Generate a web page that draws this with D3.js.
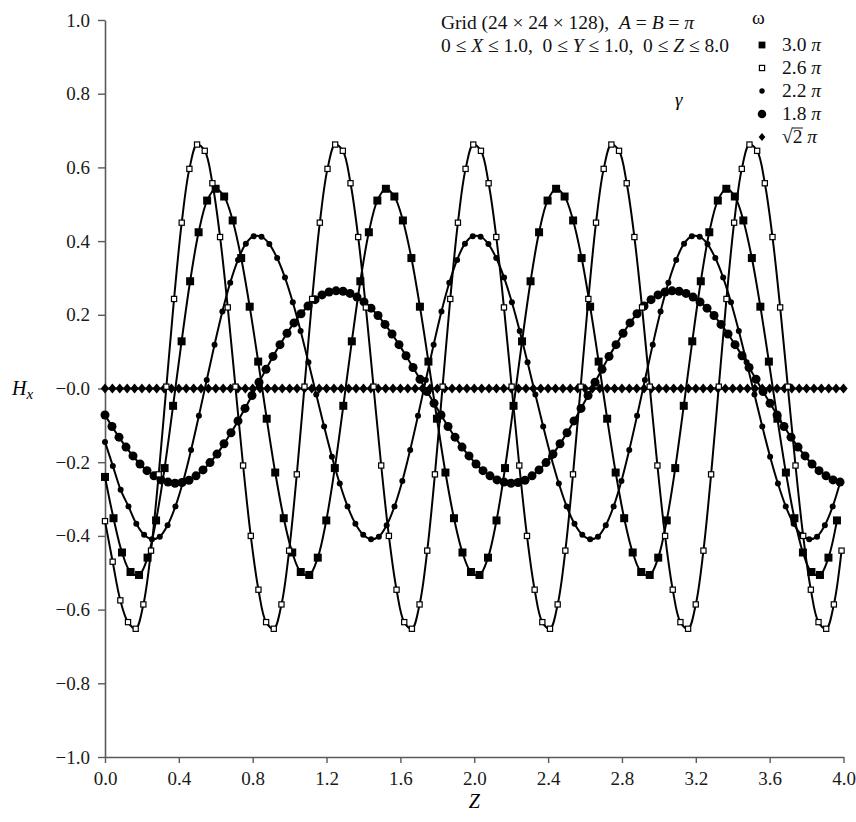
<!DOCTYPE html>
<html>
<head>
<meta charset="utf-8">
<script src="https://cdn.jsdelivr.net/npm/d3@7"></script>
<style>
  html, body { margin: 0; padding: 0; background: #fff; }
  svg { display: block; font-family: "Liberation Serif", "Times New Roman", serif; }
  text { white-space: pre; }
</style>
</head>
<body>
<svg id="chart" width="856" height="822"></svg>
<script>
// ---- Hx along the guide for each angular frequency (sampled in Z) ----
const legendLabels = ["3.0", "2.6", "2.2", "1.8", "√2"];
const zSteps = [0.0461, 0.041556, 0.042382, 0.037917, 0.04];

// omega = 3.0 pi  (filled squares)
const hx30 = [
  -0.240, -0.352, -0.445, -0.498, -0.506, -0.459, -0.358, -0.216, -0.047, 0.128,
   0.291,  0.424,  0.510,  0.542,  0.521,  0.456,  0.354,  0.222,  0.073, -0.082,
  -0.228, -0.352, -0.445, -0.498, -0.506, -0.459, -0.358, -0.216, -0.047, 0.128,
   0.291,  0.424,  0.510,  0.542,  0.521,  0.456,  0.354,  0.222,  0.073, -0.082,
  -0.228, -0.352, -0.445, -0.498, -0.506, -0.459, -0.358, -0.216, -0.047, 0.128,
   0.291,  0.424,  0.510,  0.542,  0.521,  0.456,  0.354,  0.222,  0.073, -0.082,
  -0.228, -0.352, -0.445, -0.498, -0.506, -0.459, -0.358, -0.216, -0.047, 0.128,
   0.291,  0.424,  0.510,  0.542,  0.521,  0.456,  0.354,  0.222,  0.073, -0.082,
  -0.228, -0.352, -0.445, -0.498, -0.506, -0.459, -0.358
];

// omega = 2.6 pi  (open squares)
const hx26 = [
  -0.360, -0.470, -0.575, -0.634, -0.652, -0.586, -0.440, -0.233, 0.005,
   0.243,  0.450,  0.596,  0.662,  0.645,  0.557,  0.411,  0.220, 0.005,
  -0.209, -0.400, -0.546, -0.634, -0.652, -0.586, -0.440, -0.233, 0.005,
   0.243,  0.450,  0.596,  0.662,  0.645,  0.557,  0.411,  0.220, 0.005,
  -0.209, -0.400, -0.546, -0.634, -0.652, -0.586, -0.440, -0.233, 0.005,
   0.243,  0.450,  0.596,  0.662,  0.645,  0.557,  0.411,  0.220, 0.005,
  -0.209, -0.400, -0.546, -0.634, -0.652, -0.586, -0.440, -0.233, 0.005,
   0.243,  0.450,  0.596,  0.662,  0.645,  0.557,  0.411,  0.220, 0.005,
  -0.209, -0.400, -0.546, -0.634, -0.652, -0.586, -0.440, -0.233, 0.005,
   0.243,  0.450,  0.596,  0.662,  0.645,  0.557,  0.411,  0.220, 0.005,
  -0.209, -0.400, -0.546, -0.634, -0.652, -0.586, -0.440
];

// omega = 2.2 pi  (small circles)
const hx22 = [
  -0.145, -0.210, -0.275, -0.320, -0.367, -0.397, -0.409, -0.402, -0.371, -0.320,
  -0.251, -0.167, -0.074,  0.023,  0.119,  0.209,  0.287,  0.349,  0.393,  0.413,
   0.412,  0.392,  0.354,  0.301,  0.234,  0.156,  0.071, -0.016,
  -0.103, -0.185, -0.258, -0.320, -0.367, -0.397, -0.409, -0.402, -0.371, -0.320,
  -0.251, -0.167, -0.074,  0.023,  0.119,  0.209,  0.287,  0.349,  0.393,  0.413,
   0.412,  0.392,  0.354,  0.301,  0.234,  0.156,  0.071, -0.016,
  -0.103, -0.185, -0.258, -0.320, -0.367, -0.397, -0.409, -0.402, -0.371, -0.320,
  -0.251, -0.167, -0.074,  0.023,  0.119,  0.209,  0.287,  0.349,  0.393,  0.413,
   0.412,  0.392,  0.354,  0.301,  0.234,  0.156,  0.071, -0.016,
  -0.103, -0.185, -0.258, -0.320, -0.367, -0.397, -0.409, -0.402, -0.371, -0.320,
  -0.251
];

// omega = 1.8 pi  (large circles)
const hx18 = [
  -0.072, -0.103, -0.132, -0.159, -0.183, -0.205, -0.223, -0.237, -0.248, -0.254,
  -0.257, -0.255, -0.249, -0.237, -0.221, -0.201, -0.178, -0.150, -0.120, -0.088,
  -0.054, -0.019,  0.017,  0.052,  0.087,  0.119,  0.150,  0.178,  0.203,  0.224,
   0.241,  0.254,  0.262,  0.265,  0.264,  0.258,  0.248,  0.235,  0.218,  0.198,
   0.174,  0.148,  0.119,  0.089,  0.057,  0.025, -0.008, -0.040,
  -0.072, -0.103, -0.132, -0.159, -0.183, -0.205, -0.223, -0.237, -0.248, -0.254,
  -0.257, -0.255, -0.249, -0.237, -0.221, -0.201, -0.178, -0.150, -0.120, -0.088,
  -0.054, -0.019,  0.017,  0.052,  0.087,  0.119,  0.150,  0.178,  0.203,  0.224,
   0.241,  0.254,  0.262,  0.265,  0.264,  0.258,  0.248,  0.235,  0.218,  0.198,
   0.174,  0.148,  0.119,  0.089,  0.057,  0.025, -0.008, -0.040,
  -0.072, -0.103, -0.132, -0.159, -0.183, -0.205, -0.223, -0.237, -0.248, -0.254
];

// omega = sqrt(2) pi  (diamonds, cut-off: no field)
const hxSqrt2 = [
  0, 0, 0, 0, 0, 0, 0, 0, 0, 0, 0, 0, 0, 0, 0, 0, 0, 0, 0, 0,
  0, 0, 0, 0, 0, 0, 0, 0, 0, 0, 0, 0, 0, 0, 0, 0, 0, 0, 0, 0,
  0, 0, 0, 0, 0, 0, 0, 0, 0, 0, 0, 0, 0, 0, 0, 0, 0, 0, 0, 0,
  0, 0, 0, 0, 0, 0, 0, 0, 0, 0, 0, 0, 0, 0, 0, 0, 0, 0, 0, 0,
  0, 0, 0, 0, 0, 0, 0, 0, 0, 0, 0, 0, 0, 0, 0, 0, 0, 0, 0, 0,
  0
];

const xTicks = [0, 0.4, 0.8, 1.2, 1.6, 2.0, 2.4, 2.8, 3.2, 3.6, 4.0];
const xTickLabels = ["0.0", "0.4", "0.8", "1.2", "1.6", "2.0", "2.4", "2.8", "3.2", "3.6", "4.0"];
const yTicks = [1.0, 0.8, 0.6, 0.4, 0.2, 0.0, -0.2, -0.4, -0.6, -0.8, -1.0];
const yTickLabels = ["1.0", "0.8", "0.6", "0.4", "0.2", "\u22120.0", "\u22120.2", "\u22120.4", "\u22120.6", "\u22120.8", "\u22121.0"];

// ---- drawing ----
const serif = '"Liberation Serif", "Times New Roman", serif';
const svg = d3.select("#chart");
const x = d3.scaleLinear().domain([0, 4]).range([105, 843.5]);
const y = d3.scaleLinear().domain([-1, 1]).range([757, 20]);

const axisColor = "#5a5a5a";
const tickFont = 19;

const gx = svg.append("g")
  .attr("transform", `translate(0,${y(-1)})`)
  .call(d3.axisBottom(x).tickValues(xTicks)
    .tickFormat((d, i) => xTickLabels[i]).tickSize(6).tickSizeOuter(0).tickPadding(9));
const gy = svg.append("g")
  .attr("transform", `translate(${x(0)},0)`)
  .call(d3.axisLeft(y).tickValues(yTicks)
    .tickFormat((d, i) => yTickLabels[i]).tickSize(7).tickSizeOuter(0).tickPadding(8));

[gx, gy].forEach(g => {
  g.attr("font-family", null).attr("font-size", null);
  g.select(".domain").attr("stroke", axisColor).attr("stroke-width", 1.6);
  g.selectAll(".tick line").attr("stroke", axisColor).attr("stroke-width", 1.4);
  g.selectAll(".tick text")
    .attr("fill", "#1a1a1a")
    .style("font-family", serif)
    .style("font-size", tickFont + "px");
});

// axis titles
svg.append("text")
  .attr("x", x(2)).attr("y", 808)
  .attr("text-anchor", "middle")
  .style("font-size", "20px").attr("font-style", "italic")
  .text("Z");
const hLab = svg.append("text")
  .attr("x", 12).attr("y", y(0) + 6)
  .style("font-size", "20px").attr("font-style", "italic");
hLab.append("tspan").text("H");
hLab.append("tspan").style("font-size", "15px").attr("dy", 4).text("x");

// series
const series = [
  { values: hx30, step: zSteps[0], marker: "fsquare" },
  { values: hx26, step: zSteps[1], marker: "osquare" },
  { values: hx22, step: zSteps[2], marker: "scircle" },
  { values: hx18, step: zSteps[3], marker: "bcircle" },
  { values: hxSqrt2, step: zSteps[4], marker: "diamond" }
];

const line = d3.line()
  .x(d => x(d[0]))
  .y(d => y(d[1]))
  .curve(d3.curveCatmullRom.alpha(0.5));

function drawMarker(g, type, cx, cy) {
  if (type === "fsquare") {
    g.append("rect").attr("x", cx - 4).attr("y", cy - 4)
      .attr("width", 8).attr("height", 8).attr("fill", "#000");
  } else if (type === "osquare") {
    g.append("rect").attr("x", cx - 2.6).attr("y", cy - 2.6)
      .attr("width", 5.2).attr("height", 5.2)
      .attr("fill", "#fff").attr("stroke", "#000").attr("stroke-width", 1.2);
  } else if (type === "scircle") {
    g.append("circle").attr("cx", cx).attr("cy", cy).attr("r", 3).attr("fill", "#000");
  } else if (type === "bcircle") {
    g.append("circle").attr("cx", cx).attr("cy", cy).attr("r", 4.5).attr("fill", "#000");
  } else if (type === "diamond") {
    g.append("path")
      .attr("d", `M${cx},${cy - 5}L${cx + 4.2},${cy}L${cx},${cy + 5}L${cx - 4.2},${cy}Z`)
      .attr("fill", "#000");
  }
}

// draw order: flat line first, then the rest
const order = [4, 3, 2, 0, 1];
order.forEach(k => {
  const s = series[k];
  const pts = s.values.map((v, i) => [i * s.step, v]);
  const g = svg.append("g");
  g.append("path")
    .attr("d", line(pts))
    .attr("fill", "none")
    .attr("stroke", "#000")
    .attr("stroke-width", 2);
  pts.forEach(p => drawMarker(g, s.marker, x(p[0]), y(p[1])));
});

// annotation block
const note = svg.append("g").style("font-size", "19.5px").attr("fill", "#111");
const l1 = note.append("text").attr("x", 441).attr("y", 29);
l1.append("tspan").text("Grid (24 \u00d7 24 \u00d7 128),  ");
l1.append("tspan").attr("font-style", "italic").text("A");
l1.append("tspan").text(" = ");
l1.append("tspan").attr("font-style", "italic").text("B");
l1.append("tspan").text(" = ");
l1.append("tspan").attr("font-style", "italic").text("\u03c0");
const l2 = note.append("text").attr("x", 441).attr("y", 52);
l2.append("tspan").text("0 \u2264 ");
l2.append("tspan").attr("font-style", "italic").text("X");
l2.append("tspan").text(" \u2264 1.0,  0 \u2264 ");
l2.append("tspan").attr("font-style", "italic").text("Y");
l2.append("tspan").text(" \u2264 1.0,  0 \u2264 ");
l2.append("tspan").attr("font-style", "italic").text("Z");
l2.append("tspan").text(" \u2264 8.0");

svg.append("text").attr("x", 675).attr("y", 106)
  .style("font-size", "19px").attr("font-style", "italic").text("\u03b3");

// legend
const leg = svg.append("g").style("font-size", "19.5px").attr("fill", "#111");
leg.append("text").attr("x", 752).attr("y", 24).text("\u03c9");
const legMarkers = ["fsquare", "osquare", "scircle", "bcircle", "diamond"];
const legendMarkerScale = { fsquare: 0.85, osquare: 1, scircle: 0.9, bcircle: 0.95, diamond: 0.8 };
legendLabels.forEach((lab, i) => {
  const yy = 45 + i * 23;
  const mg = leg.append("g")
    .attr("transform", `translate(762,${yy}) scale(${legendMarkerScale[legMarkers[i]]})`);
  drawMarker(mg, legMarkers[i], 0, 0);
  const t = leg.append("text").attr("x", 782).attr("y", yy + 6);
  if (lab === "√2") {
    t.append("tspan").text("\u221a");
    t.append("tspan").text("2");
    t.append("tspan").text(" ");
    t.append("tspan").attr("font-style", "italic").text("\u03c0");
    // vinculum over the 2
    const n = t.node();
    const start = n.getStartPositionOfChar(1);
    const end = n.getEndPositionOfChar(1);
    leg.append("line")
      .attr("x1", start.x - 0.5).attr("x2", end.x + 0.5)
      .attr("y1", yy - 9).attr("y2", yy - 9)
      .attr("stroke", "#111").attr("stroke-width", 1);
  } else {
    t.append("tspan").text(lab + " ");
    t.append("tspan").attr("font-style", "italic").text("\u03c0");
  }
});
</script>
</body>
</html>
